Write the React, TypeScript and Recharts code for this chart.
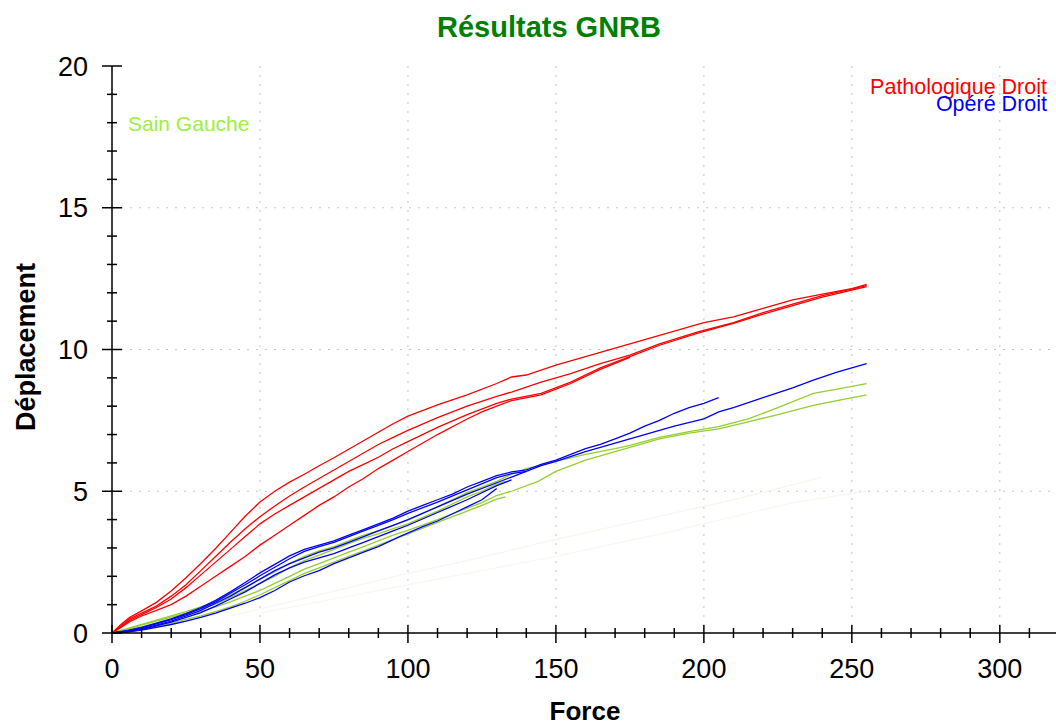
import { LineChart, Line, XAxis, YAxis, CartesianGrid } from "recharts";

// each curve: [force, déplacement]
const pathoA = [[0,0],[3,0.3],[6,0.55],[10,0.78],[15,1.08],[20,1.48],[25,1.95],[30,2.45],[35,2.98],[40,3.55],[45,4.12],[50,4.62],[55,5.0],[60,5.32],[65,5.6],[70,5.9],[75,6.18],[80,6.48],[85,6.78],[90,7.08],[95,7.38],[100,7.65],[110,8.05],[120,8.4],[130,8.8],[135,9.03],[140,9.1],[150,9.45],[160,9.75],[170,10.05],[180,10.35],[190,10.65],[200,10.95],[210,11.15],[220,11.45],[230,11.75],[240,11.95],[250,12.15],[255,12.3]];
const pathoB = [[0,0],[3,0.25],[6,0.5],[10,0.7],[15,0.95],[20,1.3],[25,1.7],[30,2.2],[35,2.7],[40,3.2],[45,3.68],[50,4.1],[55,4.48],[60,4.83],[65,5.15],[70,5.45],[75,5.75],[80,6.05],[85,6.35],[90,6.65],[95,6.9],[100,7.15],[110,7.6],[120,8.0],[130,8.35],[135,8.5],[145,8.85],[155,9.15],[165,9.5],[175,9.8],[185,10.2],[198,10.62],[210,10.95],[220,11.3],[230,11.6],[240,11.9],[255,12.25]];
const pathoC = [[0,0],[3,0.2],[6,0.45],[10,0.65],[15,0.9],[20,1.2],[25,1.6],[30,2.05],[35,2.5],[40,2.95],[45,3.4],[50,3.85],[55,4.2],[60,4.5],[65,4.8],[70,5.1],[75,5.4],[80,5.7],[85,5.95],[90,6.2],[95,6.5],[100,6.75],[110,7.25],[120,7.7],[130,8.1],[135,8.25],[145,8.45],[155,8.85],[165,9.35],[175,9.75],[185,10.15],[198,10.58],[210,10.92],[220,11.25],[230,11.55],[240,11.85],[255,12.22]];
const pathoD = [[0,0],[3,0.2],[6,0.4],[10,0.6],[15,0.8],[20,1.0],[25,1.3],[30,1.65],[35,2.0],[40,2.35],[45,2.7],[50,3.1],[55,3.45],[60,3.8],[65,4.15],[70,4.5],[75,4.8],[80,5.15],[85,5.45],[90,5.8],[95,6.1],[100,6.4],[110,7.0],[120,7.55],[125,7.8],[130,8.0],[135,8.2],[145,8.4],[155,8.8],[165,9.3],[175,9.72]];

const opereA = [[0,0],[5,0.08],[10,0.2],[15,0.35],[20,0.5],[25,0.68],[30,0.9],[35,1.15],[40,1.45],[45,1.78],[50,2.12],[55,2.42],[60,2.72],[65,2.95],[70,3.1],[75,3.25],[80,3.45],[85,3.65],[90,3.85],[95,4.05],[100,4.3],[105,4.5],[110,4.7],[115,4.9],[120,5.15],[125,5.35],[130,5.55],[135,5.68],[140,5.75],[145,5.95],[150,6.1],[155,6.3],[160,6.5],[165,6.65],[170,6.85],[175,7.05],[180,7.3],[185,7.5],[190,7.75],[195,7.95],[200,8.1],[205,8.3]];
const opereB = [[0,0],[5,0.07],[10,0.18],[15,0.32],[20,0.47],[25,0.65],[30,0.86],[35,1.1],[40,1.4],[45,1.7],[50,2.02],[55,2.32],[60,2.62],[65,2.88],[70,3.05],[75,3.2],[80,3.4],[85,3.6],[90,3.8],[95,4.0],[100,4.22],[110,4.62],[120,5.05],[130,5.48],[135,5.62],[140,5.7],[145,5.9],[150,6.05],[160,6.4],[170,6.7],[175,6.85],[180,7.0],[190,7.3],[200,7.55],[205,7.8],[210,7.95],[220,8.3],[230,8.65],[237,8.92],[245,9.2],[255,9.5]];
const opereC = [[0,0],[5,0.05],[10,0.15],[15,0.28],[20,0.42],[25,0.6],[30,0.8],[35,1.05],[40,1.3],[45,1.6],[50,1.9],[55,2.2],[60,2.45],[65,2.65],[70,2.85],[75,3.0],[80,3.2],[85,3.4],[90,3.6],[95,3.8],[100,4.0],[110,4.45],[120,4.9],[130,5.3],[135,5.5],[140,5.7]];
const opereD = [[0,0],[5,0.05],[10,0.12],[15,0.25],[20,0.38],[25,0.55],[30,0.72],[35,0.95],[40,1.2],[45,1.45],[50,1.75],[55,2.05],[60,2.3],[65,2.5],[70,2.65],[75,2.8],[80,3.0],[85,3.2],[90,3.4],[95,3.6],[100,3.8],[110,4.25],[120,4.7],[130,5.2],[135,5.4]];
const opereE = [[0,0],[5,0.03],[10,0.1],[15,0.2],[20,0.3],[25,0.42],[30,0.55],[35,0.7],[40,0.88],[45,1.05],[50,1.25],[55,1.5],[60,1.8],[65,2.02],[70,2.2],[75,2.45],[80,2.65],[85,2.85],[90,3.05],[97,3.39],[105,3.75],[110,3.95],[116,4.25],[120,4.45],[125,4.7],[130,5.1]];

const sainA = [[0,0],[5,0.15],[10,0.3],[15,0.45],[20,0.6],[25,0.75],[30,0.92],[35,1.1],[40,1.35],[45,1.6],[50,1.9],[55,2.15],[60,2.45],[65,2.7],[70,2.9],[75,3.05],[80,3.25],[85,3.45],[90,3.6],[95,3.8],[100,3.98],[110,4.45],[120,4.95],[125,5.15],[130,5.35],[135,5.6],[140,5.8],[145,5.92],[150,6.05],[160,6.3],[170,6.5],[175,6.62],[185,6.9],[195,7.1],[205,7.28],[215,7.55],[225,7.95],[237,8.45],[245,8.6],[255,8.8]];
const sainB = [[0,0],[5,0.1],[10,0.22],[15,0.35],[20,0.5],[25,0.62],[30,0.75],[35,0.92],[40,1.1],[45,1.3],[50,1.5],[55,1.75],[60,2.0],[65,2.25],[70,2.45],[75,2.65],[80,2.85],[85,3.05],[90,3.25],[95,3.45],[100,3.62],[110,4.0],[120,4.4],[125,4.6],[130,4.85],[135,5.0],[144,5.35],[150,5.7],[160,6.1],[175,6.55],[185,6.85],[195,7.05],[205,7.2],[215,7.45],[225,7.7],[237,8.03],[245,8.2],[255,8.4]];
const sainC = [[0,0],[5,0.12],[10,0.28],[15,0.42],[20,0.56],[25,0.7],[30,0.85],[35,1.02],[40,1.25],[45,1.5],[50,1.75],[55,2.0],[60,2.3],[65,2.55],[70,2.75],[75,2.95],[80,3.15],[85,3.35],[90,3.5],[95,3.68],[100,3.85],[110,4.3],[120,4.8],[125,5.0],[130,5.25],[133,5.35]];
const sainD = [[0,0],[5,0.05],[10,0.12],[15,0.22],[20,0.35],[25,0.48],[30,0.6],[35,0.75],[40,0.92],[45,1.12],[50,1.35],[55,1.6],[60,1.85],[65,2.1],[70,2.3],[75,2.5],[80,2.7],[85,2.9],[90,3.1],[95,3.3],[100,3.5],[110,3.9],[120,4.3],[125,4.5],[130,4.72],[133,4.8]];

// very pale traces behind the others
const paleA = [[40,0.6],[60,1.1],[80,1.6],[100,2.1],[120,2.55],[150,3.3],[180,4.0],[210,4.7],[240,5.5]];
const paleB = [[50,0.7],[80,1.3],[110,1.9],[150,2.7],[190,3.6],[230,4.6],[255,5.0]];

const xTicks = [0,10,20,30,40,50,60,70,80,90,100,110,120,130,140,150,160,170,180,190,200,210,220,230,240,250,260,270,280,290,300,310,320];
const yTicks = [0,1,2,3,4,5,6,7,8,9,10,11,12,13,14,15,16,17,18,19,20];
const xGrid = [50,100,150,200,250,300];
const yGrid = [5,10,15];

const FONT = "Liberation Sans, Arial, sans-serif";

const toPts = (a: number[][]) => a.map(([f, d]) => ({ f, d }));

const series = [
  { key: "paleA", data: paleA, color: "#f6f7ee" },
  { key: "paleB", data: paleB, color: "#f7f8f2" },
  { key: "sainA", data: sainA, color: "#94cf30" },
  { key: "sainB", data: sainB, color: "#94cf30" },
  { key: "sainC", data: sainC, color: "#94cf30" },
  { key: "sainD", data: sainD, color: "#94cf30" },
  { key: "opereA", data: opereA, color: "#0000ff" },
  { key: "opereB", data: opereB, color: "#0000ff" },
  { key: "opereC", data: opereC, color: "#0000ff" },
  { key: "opereD", data: opereD, color: "#0000ff" },
  { key: "opereE", data: opereE, color: "#0000ff" },
  { key: "pathoA", data: pathoA, color: "#ff0000" },
  { key: "pathoB", data: pathoB, color: "#ff0000" },
  { key: "pathoC", data: pathoC, color: "#ff0000" },
  { key: "pathoD", data: pathoD, color: "#ff0000" },
];

function BottomTick({ x, y, payload }: any) {
  const v = payload.value;
  const major = v % 50 === 0;
  return (
    <g>
      <line x1={x} x2={x} y1={major ? y - 8 : y - 5} y2={major ? y + 10 : y + 5} stroke="#000" strokeWidth={1.5} />
      {major && (
        <text x={x} y={y + 45} textAnchor="middle" fontSize={27} fontFamily={FONT} fill="#000">
          {v}
        </text>
      )}
    </g>
  );
}

function TopTick({ x, y, payload }: any) {
  const major = payload.value % 50 === 0;
  return <line x1={x} x2={x} y1={y} y2={y + (major ? 9 : 6)} stroke="#000" strokeWidth={1.5} />;
}

function LeftTick({ x, y, payload }: any) {
  const v = payload.value;
  const major = v % 5 === 0;
  return (
    <g>
      <line x1={major ? x - 10 : x - 5} x2={major ? x + 10 : x + 5} y1={y} y2={y} stroke="#000" strokeWidth={1.5} />
      {major && (
        <text x={x - 24} y={y + 9.5} textAnchor="end" fontSize={27} fontFamily={FONT} fill="#000">
          {v}
        </text>
      )}
    </g>
  );
}

function RightTick({ x, y, payload }: any) {
  const major = payload.value % 5 === 0;
  return <line x1={x - (major ? 9 : 6)} x2={x} y1={y} y2={y} stroke="#000" strokeWidth={1.5} />;
}

export default function App() {
  return (
    <div
      style={{
        position: "absolute",
        left: 0,
        top: 0,
        width: 1056,
        height: 726,
        overflow: "hidden",
        background: "#fff",
      }}
    >
      <LineChart width={1060} height={726} margin={{ top: 66, right: 1, bottom: 0, left: 0 }}>
        <CartesianGrid
          xAxisId="b"
          yAxisId="l"
          verticalValues={xGrid}
          horizontalValues={yGrid}
          stroke="#c4c4c4"
          strokeDasharray="2 7"
        />
        <XAxis
          xAxisId="b"
          type="number"
          dataKey="f"
          domain={[0, 320]}
          ticks={xTicks}
          interval={0}
          height={93}
          tickSize={0}
          tickMargin={0}
          tickLine={false}
          axisLine={{ stroke: "#000", strokeWidth: 1.5 }}
          tick={BottomTick}
        />
        <XAxis
          xAxisId="t"
          orientation="top"
          type="number"
          dataKey="f"
          domain={[0, 320]}
          ticks={xTicks}
          interval={0}
          height={0}
          tickSize={0}
          tickMargin={0}
          tickLine={false}
          axisLine={{ stroke: "#000", strokeWidth: 1.5 }}
          tick={TopTick}
        />
        <YAxis
          yAxisId="l"
          type="number"
          dataKey="d"
          domain={[0, 20]}
          ticks={yTicks}
          interval={0}
          width={112}
          tickSize={0}
          tickMargin={0}
          tickLine={false}
          axisLine={{ stroke: "#000", strokeWidth: 1.5 }}
          tick={LeftTick}
        />
        <YAxis
          yAxisId="r"
          orientation="right"
          type="number"
          dataKey="d"
          domain={[0, 20]}
          ticks={yTicks}
          interval={0}
          width={0}
          tickSize={0}
          tickMargin={0}
          tickLine={false}
          axisLine={{ stroke: "#000", strokeWidth: 1.5 }}
          tick={RightTick}
        />
        {series.map((s) => (
          <Line
            key={s.key}
            xAxisId="b"
            yAxisId="l"
            data={toPts(s.data)}
            dataKey="d"
            type="linear"
            stroke={s.color}
            strokeWidth={1.3}
            dot={false}
            activeDot={false}
            isAnimationActive={false}
          />
        ))}
      </LineChart>
      <svg
        width={1056}
        height={726}
        style={{ position: "absolute", left: 0, top: 0, pointerEvents: "none" }}
      >
        <text x={549} y={37} textAnchor="middle" fontSize={29} fontWeight="bold" fontFamily={FONT} fill="#008000">
          Résultats GNRB
        </text>
        <text
          x={35}
          y={347}
          transform="rotate(-90 35 347)"
          textAnchor="middle"
          fontSize={27}
          fontWeight="bold"
          fontFamily={FONT}
          fill="#000"
        >
          Déplacement
        </text>
        <text x={585} y={720} textAnchor="middle" fontSize={26} fontWeight="bold" fontFamily={FONT} fill="#000">
          Force
        </text>
        <text x={1047} y={94} textAnchor="end" fontSize={21.5} fontFamily={FONT} fill="#ff0000">
          Pathologique Droit
        </text>
        <text x={1047} y={111} textAnchor="end" fontSize={21.5} fontFamily={FONT} fill="#0000ff">
          Opéré Droit
        </text>
        <text x={128} y={131} fontSize={21} fontFamily={FONT} fill="#9cef3e">
          Sain Gauche
        </text>
      </svg>
    </div>
  );
}
